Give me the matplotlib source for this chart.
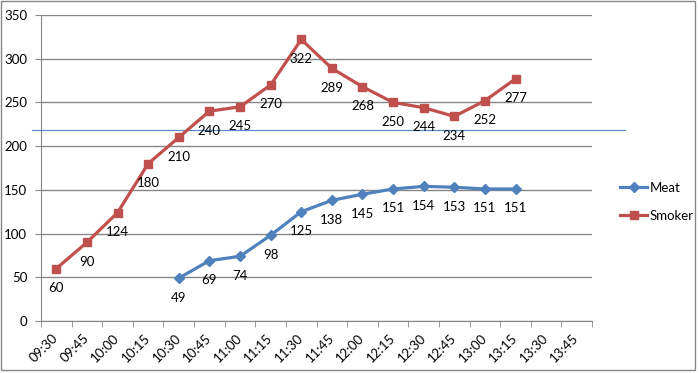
import numpy as np
import matplotlib.pyplot as plt
from matplotlib.patches import Rectangle

times = ['09:30', '09:45', '10:00', '10:15', '10:30', '10:45', '11:00', '11:15', '11:30',
         '11:45', '12:00', '12:15', '12:30', '12:45', '13:00', '13:15', '13:30', '13:45']
smoker = [60, 90, 124, 180, 210, 240, 245, 270, 322, 289, 268, 250, 244, 234, 252, 277]
meat = [49, 69, 74, 98, 125, 138, 145, 151, 154, 153, 151, 151]
meat_start = times.index('10:30')
ref_level = 218

plt.rcParams['font.family'] = ['Lato', 'DejaVu Sans']

fig = plt.figure(figsize=(6.99, 3.73), dpi=100)
ax = fig.add_axes([0.0587, 0.1394, 0.847 - 0.0587, 0.9598 - 0.1394])

x_smoker = np.arange(len(smoker))
x_meat = np.arange(meat_start, meat_start + len(meat))

meat_col = '#4F81BD'
smoker_col = '#C0504D'
grid_col = '#868686'

ax.plot(x_meat, meat, color=meat_col, lw=2.3, marker='D', ms=5, label='Meat', zorder=4)
ax.plot(x_smoker, smoker, color=smoker_col, lw=2.3, marker='s', ms=6, label='Smoker', zorder=4)

for xs, ys in [(x_smoker, smoker), (x_meat, meat)]:
    for xi, yi in zip(xs, ys):
        ax.annotate(str(yi), (xi, yi), xytext=(0, -14), textcoords='offset points',
                    ha='center', va='center', fontsize=9.5, color='black', zorder=5)

# hand-drawn reference line across the chart
ax.axhline(ref_level, xmin=-0.016, xmax=1.06, color='#5B8BC9', lw=0.9, clip_on=False, zorder=3)

ax.set_xlim(-0.5, len(times) - 0.5)
ax.set_ylim(0, 350)
ax.set_yticks(np.arange(0, 351, 50))
ax.yaxis.grid(True, color=grid_col, lw=1)
ax.set_axisbelow(True)

ax.set_xticks(np.arange(len(times)))
ax.set_xticklabels(times, rotation=45, ha='right', va='center', rotation_mode='anchor', fontsize=9.5)
ax.set_xticks(np.arange(-0.5, len(times)), minor=True)
ax.tick_params(axis='x', which='major', length=0, pad=11)
ax.tick_params(axis='x', which='minor', length=4, color=grid_col, direction='out')
ax.tick_params(axis='y', length=4, color=grid_col, labelsize=9.5, pad=6)

for s in ['top', 'right']:
    ax.spines[s].set_visible(False)
for s in ['left', 'bottom']:
    ax.spines[s].set_color(grid_col)

ax.legend(loc='center left', bbox_to_anchor=(1.03, 0.39), frameon=False, fontsize=9.5,
          handlelength=2.0, labelspacing=1.2, handletextpad=0.2)

fig.patches.append(Rectangle((0.002, 0.008), 0.992, 0.988, transform=fig.transFigure,
                             fill=False, edgecolor=grid_col, lw=1))

fig.savefig('out.png', dpi=100)
